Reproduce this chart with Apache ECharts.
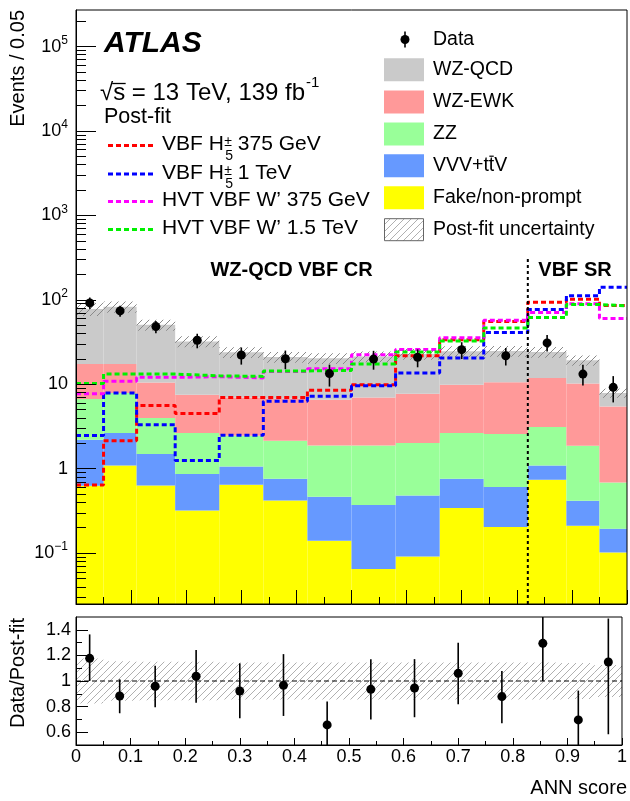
<!DOCTYPE html>
<html><head><meta charset="utf-8">
<script src="https://cdn.jsdelivr.net/npm/echarts@6/dist/echarts.min.js"></script>
<style>html,body{margin:0;padding:0;background:#fff}#c{width:630px;height:801px}</style>
</head><body><div id="c"></div>
<script>
// ---------------- data ----------------
const binEdges = [0, 0.05, 0.11, 0.18, 0.26, 0.34, 0.42, 0.50, 0.58, 0.66, 0.74, 0.82, 0.89, 0.95, 1.0];
const fakeNonPrompt = [0.63, 1.09, 0.634, 0.32, 0.646, 0.42, 0.14, 0.065, 0.091, 0.342, 0.204, 0.74, 0.211, 0.102];
const vvvTtv       = [1.57, 1.56, 0.856, 0.545, 0.419, 0.34, 0.326, 0.306, 0.392, 0.418, 0.403, 0.35, 0.207, 0.093];
const zzBkg        = [4.5, 5.25, 2.5, 1.785, 1.385, 1.39, 1.424, 1.519, 1.537, 1.89, 1.973, 2.03, 1.452, 0.493];
const wzEwk        = [10.7, 9.5, 6.51, 4.88, 4.55, 4.65, 4.68, 5.11, 5.72, 7.25, 8.02, 8.78, 8.33, 4.78];
const wzQcd        = [60.6, 65.6, 40.2, 24.67, 17.0, 14.2, 13.73, 14.4, 15.06, 14.7, 14.2, 12.3, 9.1, 2.43];
const relUnc       = [0.175, 0.155, 0.15, 0.15, 0.145, 0.145, 0.145, 0.145, 0.145, 0.145, 0.145, 0.145, 0.14, 0.125];
const dataVals     = [92, 74, 48.2, 33.2, 22.2, 20.1, 13.4, 19.9, 20.9, 25.7, 21.8, 30.9, 13.2, 9.2];
const dataErrLo    = [13.8, 11, 8.1, 6.5, 5.1, 5.0, 4.0, 5.0, 5.0, 5.8, 5.1, 6.5, 3.5, 3.1];
const dataErrHi    = [14.6, 11, 8.1, 6.5, 5.1, 5.0, 3.7, 5.0, 5.0, 5.8, 5.1, 7.5, 3.8, 3.3];
const sigH375      = [0.64, 2.15, 5.6, 4.5, 7.0, 7.0, 8.5, 9.9, 21.8, 33.8, 55.6, 94, 102, 86];
const sigH1TeV     = [2.48, 7.9, 3.32, 1.25, 2.5, 6.3, 7.2, 9.6, 13.6, 20.5, 41, 77, 112, 141];
const sigW375      = [7.74, 10.9, 12.1, 12.3, 11.9, 14.2, 15.3, 22.4, 25.8, 35.6, 57.5, 71, 90, 60];
const sigW1500     = [10.2, 13.2, 13.2, 12.6, 12.4, 14.4, 14.6, 17.4, 24.2, 32.5, 46.5, 62, 88, 85];
const ratioVals    = [1.177, 0.883, 0.959, 1.037, 0.922, 0.966, 0.657, 0.935, 0.945, 1.06, 0.878, 1.294, 0.696, 1.148];
const ratioErrLo   = [0.177, 0.135, 0.164, 0.206, 0.213, 0.239, 0.2, 0.235, 0.228, 0.242, 0.208, 0.294, 0.25, 0.564];
const ratioErrHi   = [0.187, 0.13, 0.161, 0.205, 0.216, 0.244, 0.182, 0.234, 0.226, 0.239, 0.2, 0.35, 0.229, 0.34];
const mainYTicks   = [0.1, 1, 10, 100, 1000, 10000, 100000];
const ratioYTicks  = [0.6, 0.8, 1, 1.2, 1.4];
const ratioYMinor  = [0.7, 0.9, 1.1, 1.3];
const srBoundary   = 0.82;
const srLineTop    = 316;
const YMIN = 0.025, YMAX = 2.71e5, RMIN = 0.5, RMAX = 1.5;

// ---------------- helpers ----------------
const FONT = '"Liberation Sans", Arial, Helvetica, sans-serif';
const LFS = 19.5;   // right legend
const SFS = 21;     // left (signal) legend
const mctx = document.createElement('canvas').getContext('2d');
function tw(text, font){ mctx.font = font; return mctx.measureText(text).width; }
function fstr(size, weight, style){ return (style||'normal')+' '+(weight||'normal')+' '+size+'px '+FONT; }
function makeHatch(color, size, lw){
  const c = document.createElement('canvas'); c.width = size; c.height = size;
  const g = c.getContext('2d'); g.strokeStyle = color; g.lineWidth = lw;
  g.beginPath();
  g.moveTo(0, size); g.lineTo(size, 0);
  g.moveTo(-1, 1); g.lineTo(1, -1);
  g.moveTo(size-1, size+1); g.lineTo(size+1, size-1);
  g.stroke(); return c;
}
const hatchMain = makeHatch('#8a8a8a', 7, 1);
const hatchRatio = makeHatch('#b0b0b0', 7, 1);

const nb = binEdges.length - 1;
const centers = [];
for (let i = 0; i < nb; i++) centers.push((binEdges[i] + binEdges[i+1]) / 2);

function rectItem(params, api){
  const p0 = api.coord([api.value(0), api.value(2)]);
  const p1 = api.coord([api.value(1), api.value(3)]);
  return {type:'rect', shape:{x:p0[0], y:p1[1], width:p1[0]-p0[0], height:p0[1]-p1[1]},
          style:{fill: api.visual('color')}};
}
function patternItem(img){
  return function(params, api){
    const p0 = api.coord([api.value(0), api.value(2)]);
    const p1 = api.coord([api.value(1), api.value(3)]);
    return {type:'rect', shape:{x:p0[0], y:p1[1], width:p1[0]-p0[0], height:p0[1]-p1[1]},
            style:{fill:{image: img, repeat:'repeat'}}};
  };
}
function errItem(params, api){
  const p0 = api.coord([api.value(0), api.value(1)]);
  const p1 = api.coord([api.value(0), api.value(2)]);
  return {type:'line', shape:{x1:p0[0], y1:p0[1], x2:p1[0], y2:p1[1]}, style:{stroke:'#000', lineWidth:1.6}};
}

const series = [];
// stacked backgrounds
const procs = [fakeNonPrompt, vvvTtv, zzBkg, wzEwk, wzQcd];
const procColors = ['#ffff00', '#6699ff', '#99ff99', '#ff9999', '#cacaca'];
const running = new Array(nb).fill(0);
procs.forEach((arr, k) => {
  const d = arr.map((v, i) => { const lo = k === 0 ? YMIN : running[i]; running[i] += v; return [binEdges[i], binEdges[i+1], lo, running[i]]; });
  series.push({type:'custom', xAxisIndex:0, yAxisIndex:0, renderItem: rectItem, data: d,
    itemStyle:{color: procColors[k]}, encode:{x:[0,1], y:[2,3]}, silent:true, z:2});
});
const total = running.slice();
// uncertainty hatch (main)
series.push({type:'custom', xAxisIndex:0, yAxisIndex:0, renderItem: patternItem(hatchMain),
  data: total.map((t,i)=>[binEdges[i], binEdges[i+1], t*(1-relUnc[i]), t*(1+relUnc[i])]),
  encode:{x:[0,1], y:[2,3]}, silent:true, z:3});
// signal step lines
function stepData(arr){ const d = arr.map((v,i)=>[binEdges[i], v]); d.push([binEdges[nb], arr[nb-1]]); return d; }
[[sigH375,'#ff0000'],[sigH1TeV,'#0000ff'],[sigW375,'#ff00ff'],[sigW1500,'#00f000']].forEach(([arr,col])=>{
  series.push({type:'line', xAxisIndex:0, yAxisIndex:0, step:'end', data: stepData(arr), symbol:'none',
    lineStyle:{color: col, width:3, type:[5,3]}, silent:true, z:4});
});
// SR boundary
series.push({type:'line', xAxisIndex:0, yAxisIndex:0, data:[[srBoundary, YMIN],[srBoundary, srLineTop]], symbol:'none',
  lineStyle:{color:'#000', width:2, type:[3,3]}, silent:true, z:5});
// data
series.push({type:'custom', xAxisIndex:0, yAxisIndex:0, renderItem: errItem,
  data: dataVals.map((v,i)=>[centers[i], v - dataErrLo[i], v + dataErrHi[i]]), encode:{x:0, y:[1,2]}, silent:true, z:6});
series.push({type:'scatter', xAxisIndex:0, yAxisIndex:0, data: dataVals.map((v,i)=>[centers[i], v]),
  symbol:'circle', symbolSize:9, itemStyle:{color:'#000', opacity:1}, silent:true, z:7});
// ratio panel
series.push({type:'custom', xAxisIndex:1, yAxisIndex:2, renderItem: patternItem(hatchRatio),
  data: relUnc.map((u,i)=>[binEdges[i], binEdges[i+1], 1-u, 1+u]), encode:{x:[0,1], y:[2,3]}, silent:true, z:3});
series.push({type:'line', xAxisIndex:1, yAxisIndex:2, data:[[0,1],[1,1]], symbol:'none',
  lineStyle:{color:'#000', width:1, type:[5,3]}, silent:true, z:4});
series.push({type:'custom', xAxisIndex:1, yAxisIndex:2, renderItem: errItem,
  data: ratioVals.map((r,i)=>[centers[i], Math.max(RMIN, r - ratioErrLo[i]), Math.min(RMAX, r + ratioErrHi[i])]),
  encode:{x:0, y:[1,2]}, silent:true, z:6});
series.push({type:'scatter', xAxisIndex:1, yAxisIndex:2, data: ratioVals.map((r,i)=>[centers[i], r]),
  symbol:'circle', symbolSize:9, itemStyle:{color:'#000', opacity:1}, silent:true, z:7});

// minor log ticks
const minorLog = [];
for (let e = -2; e <= 5; e++) for (let k = 2; k <= 9; k++) { const v = k * Math.pow(10, e); if (v > YMIN && v < YMAX) minorLog.push(v); }

function logLabel(v){
  const e = Math.round(Math.log10(v));
  if (e === 0) return '{b|1}';
  if (e === 1) return '{b|10}';
  return '{b|10}{s|' + (e < 0 ? '\u2212' + (-e) : e) + '}';
}

// ---------------- graphics (legend & text) ----------------
const G = [];
function T(x, y, text, size, opt){
  opt = opt || {};
  const al = opt.align || 'left';
  G.push({type:'text', x:x, y:y, rotation: opt.rot || 0, z:100, silent:true,
    style:{text:text, font: fstr(size, opt.weight, opt.style), fill:'#000',
      align: al, verticalAlign:'middle', textAlign: al, textVerticalAlign:'middle'}});
}
function L(x1,y1,x2,y2,col,w,dash){
  G.push({type:'line', z:100, silent:true, shape:{x1,y1,x2,y2}, style:{stroke:col, lineWidth:w, lineDash: dash || null}});
}
// ATLAS block
T(104, 44, 'ATLAS', 30, {weight:'bold', style:'italic'});
{
  const fs = 24;
  const f = fstr(fs);
  const x0 = 100, y = 93;
  T(x0, y, '\u221a', fs);
  const wr = tw('\u221a', f);
  T(x0 + wr, y, 's', fs);
  const ws = tw('s', f);
  L(x0 + wr - 1, 83.5, x0 + wr + ws + 0.5, 83.5, '#000', 1.3);
  const rest = ' = 13 TeV, 139 fb';
  T(x0 + wr + ws, y, rest, fs);
  const xr = x0 + wr + ws + tw(rest, f);
  T(xr + 1, y - 10, '-1', 15);
}
T(104, 117, 'Post-fit', 21.5);
// signal legend rows
const sigRows = [
  {y:145.5, col:'#ff0000', pre:'VBF H', ss:true, post:' 375 GeV'},
  {y:174, col:'#0000ff', pre:'VBF H', ss:true, post:' 1 TeV'},
  {y:201.5, col:'#ff00ff', pre:'HVT VBF W\u2019 375 GeV', ss:false},
  {y:229.5, col:'#00f000', pre:'HVT VBF W\u2019 1.5 TeV', ss:false}
];
sigRows.forEach(r=>{
  L(108, r.y, 153, r.y, r.col, 3, [5,3]);
  T(162, r.y - 1, r.pre, SFS);
  if (r.ss){
    const xs = 162 + tw(r.pre, fstr(SFS)) + 0.5;
    T(xs, r.y - 3, '\u00b1', 14);
    T(xs + 0.8, r.y + 10.5, '5', 14);
    T(xs + tw('\u00b1', fstr(14)), r.y - 1, r.post, SFS);
  }
});
// right legend
G.push({type:'circle', z:100, silent:true, shape:{cx:405, cy:39.5, r:4.5}, style:{fill:'#000'}});
L(405, 31.5, 405, 47.5, '#000', 1.6);
T(433, 40, 'Data', LFS);
const boxRows = [
  {y:69.7, fill:'#cacaca', label:'WZ-QCD'},
  {y:102, fill:'#ff9999', label:'WZ-EWK'},
  {y:134, fill:'#99ff99', label:'ZZ'},
  {y:165.7, fill:'#6699ff', label:'VVV+ttV', tbar:true},
  {y:197.7, fill:'#ffff00', label:'Fake/non-prompt'},
  {y:229.7, fill:'hatch', label:'Post-fit uncertainty'}
];
boxRows.forEach(r=>{
  if (r.fill === 'hatch'){
    G.push({type:'rect', z:100, silent:true, shape:{x:384.5, y:r.y-11, width:39, height:22},
      style:{fill:{image: hatchRatio, repeat:'repeat'}, stroke:'#666', lineWidth:1}});
  } else {
    G.push({type:'rect', z:100, silent:true, shape:{x:384, y:r.y-11.5, width:40, height:23}, style:{fill:r.fill}});
  }
  T(433, r.y, r.label, LFS);
  if (r.tbar){
    const f = fstr(LFS);
    const xa = 433 + tw('VVV+t', f), xb = xa + tw('t', f);
    L(xa + 0.5, r.y - 9.5, xb - 0.5, r.y - 9.5, '#000', 1.2);
  }
});
// region labels
T(291.5, 270, 'WZ-QCD VBF CR', 20, {weight:'bold', align:'center'});
T(575, 270.5, 'VBF SR', 20, {weight:'bold', align:'center'});
// axis titles
T(18, 10, 'Events / 0.05', 20, {align:'right', rot: Math.PI/2});
T(18, 618, 'Data/Post-fit', 20, {align:'right', rot: Math.PI/2});
T(627, 788, 'ANN score', 20, {align:'right'});

// ---------------- option ----------------
const axisFont = {fontFamily: FONT, fontSize: 18, color:'#000'};
const option = {
  animation: false,
  backgroundColor: '#fff',
  grid: [
    {left:76, top:10, width:551, height:594, show:true, borderColor:'#000', borderWidth:1, backgroundColor:'transparent', z:10},
    {left:76, top:617, width:551, height:128, show:true, borderColor:'#000', borderWidth:1, backgroundColor:'transparent', z:10}
  ],
  xAxis: [
    {type:'value', gridIndex:0, min:0, max:1, interval:0.1, z:10,
     axisLine:{show:true, onZero:false, lineStyle:{color:'#000', width:1}},
     axisTick:{show:true, inside:true, length:14, lineStyle:{color:'#000', width:1}},
     minorTick:{show:true, splitNumber:2, length:7, lineStyle:{color:'#000', width:1}},
     axisLabel:{show:false}, splitLine:{show:false}, minorSplitLine:{show:false}},
    {type:'value', gridIndex:1, min:0, max:1, interval:0.1, z:10,
     axisLine:{show:true, onZero:false, lineStyle:{color:'#000', width:1}},
     axisTick:{show:true, inside:true, length:7, lineStyle:{color:'#000', width:1}},
     minorTick:{show:true, splitNumber:2, length:4, lineStyle:{color:'#000', width:1}},
     axisLabel:Object.assign({margin:3, showMinLabel:true, showMaxLabel:true}, axisFont),
     splitLine:{show:false}, minorSplitLine:{show:false}}
  ],
  yAxis: [
    {type:'log', gridIndex:0, min:YMIN, max:YMAX, position:'left', offset:0, z:10,
     axisLine:{show:true, lineStyle:{color:'#000', width:1}},
     axisTick:{show:true, inside:true, length:20, customValues: mainYTicks, lineStyle:{color:'#000', width:1}},
     axisLabel:{show:true, margin:8, customValues: mainYTicks, formatter: logLabel,
       rich:{b:{fontFamily:FONT, fontSize:18, color:'#000', verticalAlign:'middle'},
             s:{fontFamily:FONT, fontSize:12, color:'#000', verticalAlign:'bottom', padding:[0,0,12,0]}}},
     splitLine:{show:false}, minorTick:{show:false}},
    {type:'log', gridIndex:0, min:YMIN, max:YMAX, position:'left', offset:0, z:10,
     axisLine:{show:false},
     axisTick:{show:true, inside:true, length:10, customValues: minorLog, lineStyle:{color:'#000', width:1}},
     axisLabel:{show:false}, splitLine:{show:false}},
    {type:'value', gridIndex:1, min:RMIN, max:RMAX, position:'left', offset:0, z:10,
     axisLine:{show:true, onZero:false, lineStyle:{color:'#000', width:1}},
     axisTick:{show:true, inside:true, length:12, customValues: ratioYTicks, lineStyle:{color:'#000', width:1}},
     axisLabel:Object.assign({margin:5, customValues: ratioYTicks}, axisFont),
     splitLine:{show:false}},
    {type:'value', gridIndex:1, min:RMIN, max:RMAX, position:'left', offset:0, z:10,
     axisLine:{show:false},
     axisTick:{show:true, inside:true, length:6, customValues: ratioYMinor, lineStyle:{color:'#000', width:1}},
     axisLabel:{show:false}, splitLine:{show:false}}
  ],
  series: series,
  graphic: G
};
const chart = echarts.init(document.getElementById('c'), null, {renderer:'canvas'});
chart.setOption(option);
</script>
</body></html>
